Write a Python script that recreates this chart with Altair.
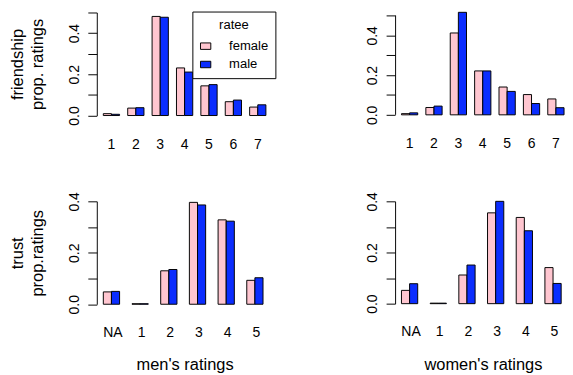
import altair as alt
import pandas as pd

# ---------------- data ----------------
ratee = ["female", "male"]

friend_cats = ["1", "2", "3", "4", "5", "6", "7"]
friend_men_female = [0.009, 0.036, 0.481, 0.231, 0.144, 0.067, 0.041]
friend_men_male = [0.006, 0.038, 0.477, 0.211, 0.150, 0.075, 0.052]
friend_women_female = [0.006, 0.037, 0.412, 0.221, 0.140, 0.102, 0.080]
friend_women_male = [0.010, 0.044, 0.516, 0.221, 0.118, 0.057, 0.036]

trust_cats = ["NA", "1", "2", "3", "4", "5"]
trust_men_female = [0.048, 0.002, 0.130, 0.396, 0.328, 0.093]
trust_men_male = [0.050, 0.002, 0.135, 0.386, 0.323, 0.103]
trust_women_female = [0.052, 0.002, 0.112, 0.355, 0.337, 0.141]
trust_women_male = [0.078, 0.002, 0.151, 0.400, 0.285, 0.079]

friend_ticks = [0.0, 0.1, 0.2, 0.3, 0.4, 0.5]
trust_ticks = [0.0, 0.1, 0.2, 0.3, 0.4]

row_titles = [["friendship", "prop. ratings"], ["trust", "prop.ratings"]]
col_titles = ["men's ratings", "women's ratings"]

# ---------------- style ----------------
FONT = "Liberation Sans"
PINK = "#FFC6D0"
BLUE = "#0B2DFF"
LABEL_SIZE = 14.5
TITLE_SIZE = 17


def panel(cats, female, male, ticks, *, width, height, ydomain, pad_outer,
          align, xlab_pad, ytitle=None, xtitle=None, xtitle_x=None,
          rule_axis=False):
    df = pd.DataFrame({
        "rating": list(cats) * 2,
        "ratee": [ratee[0]] * len(cats) + [ratee[1]] * len(cats),
        "prop": list(female) + list(male),
    })

    yaxis_kw = dict(
        values=ticks,
        labelExpr="round(datum.value*10) % 2 == 0 ? format(datum.value, '.1f') : ''",
        labelAngle=-90, labelAlign="center", labelBaseline="bottom",
        labelPadding=6.5, tickSize=9.3, tickColor="black", tickWidth=1,
        domain=not rule_axis, domainColor="black", domainWidth=1,
        labelFlush=False, labelOverlap=False, grid=False,
        labelFontSize=LABEL_SIZE, titleFontSize=TITLE_SIZE,
        titlePadding=21, titleLineHeight=21,
    )
    yaxis_kw["title"] = ytitle if ytitle is not None else None
    y_enc = alt.Y("prop:Q",
                  scale=alt.Scale(domain=ydomain, nice=False, zero=True),
                  axis=alt.Axis(**yaxis_kw))

    xaxis_kw = dict(labelAngle=0, ticks=False, tickSize=0, domain=False,
                    labelPadding=xlab_pad, labelFontSize=LABEL_SIZE,
                    titleFontSize=TITLE_SIZE, titlePadding=19, grid=False)
    xaxis_kw["title"] = xtitle if xtitle is not None else None
    if xtitle_x is not None:
        xaxis_kw["titleX"] = xtitle_x
    x_enc = alt.X("rating:N", sort=list(cats),
                  scale=alt.Scale(paddingInner=1 / 3, paddingOuter=pad_outer,
                                  align=align),
                  axis=alt.Axis(**xaxis_kw))

    color = alt.Color(
        "ratee:N",
        scale=alt.Scale(domain=ratee, range=[PINK, BLUE]),
        legend=alt.Legend(
            orient="none", legendX=99, legendY=-1, title="ratee",
            titleAnchor="middle", titleFontWeight="normal",
            titleFontSize=13.5, labelFontSize=13.5,
            strokeColor="black", fillColor="white", padding=7,
            symbolType="M-1,-0.625H1V0.625H-1Z", symbolSize=114,
            symbolStrokeColor="black", symbolStrokeWidth=1,
            symbolOpacity=1, labelOffset=17.5, rowPadding=4,
            titlePadding=8.6,
        ),
    )

    bars = alt.Chart(df).mark_bar(stroke="black", strokeWidth=1, opacity=1).encode(
        x=x_enc,
        xOffset=alt.XOffset("ratee:N", sort=ratee,
                            scale=alt.Scale(paddingInner=0, paddingOuter=0)),
        y=y_enc,
        color=color,
    )
    if not rule_axis:
        return bars.properties(width=width, height=height)

    axis_df = pd.DataFrame({"prop": [ticks[0]], "prop_end": [ticks[-1]]})
    line = alt.Chart(axis_df).mark_rule(color="black", strokeWidth=1).encode(
        x=alt.value(0.5),
        y=y_enc,
        y2="prop_end:Q",
    )
    return alt.layer(bars, line).properties(width=width, height=height)


tl = panel(friend_cats, friend_men_female, friend_men_male, friend_ticks,
           width=181.9, height=106.7, ydomain=[0, 0.5], pad_outer=0.2667,
           align=0.5, xlab_pad=23, ytitle=row_titles[0])
tr = panel(friend_cats, friend_women_female, friend_women_male, friend_ticks,
           width=175, height=106, ydomain=[0, 0.515], pad_outer=0.1307,
           align=1, xlab_pad=23, rule_axis=True)
bl = panel(trust_cats, trust_men_female, trust_men_male, trust_ticks,
           width=181.9, height=106.6, ydomain=[0, 0.4], pad_outer=0.2269,
           align=0.5, xlab_pad=22.4, ytitle=row_titles[1], xtitle=col_titles[0])
br = panel(trust_cats, trust_women_female, trust_women_male, trust_ticks,
           width=175, height=106, ydomain=[0, 0.4], pad_outer=0.1108,
           align=1, xlab_pad=22.4, xtitle=col_titles[1], xtitle_x=91)

chart = alt.vconcat(
    alt.hconcat(tl, tr, spacing=96),
    alt.hconcat(bl, br, spacing=96),
    spacing=40.6,
).properties(
    padding={"left": 1, "top": -4, "right": 0, "bottom": 0},
).configure_view(
    stroke=None,
).configure_axis(
    labelFont=FONT, titleFont=FONT, labelColor="black", titleColor="black",
    titleFontWeight="normal",
).configure_legend(
    labelFont=FONT, titleFont=FONT, labelColor="black", titleColor="black",
)

chart.save("out.html", embed_options={"renderer": "svg", "actions": False})
